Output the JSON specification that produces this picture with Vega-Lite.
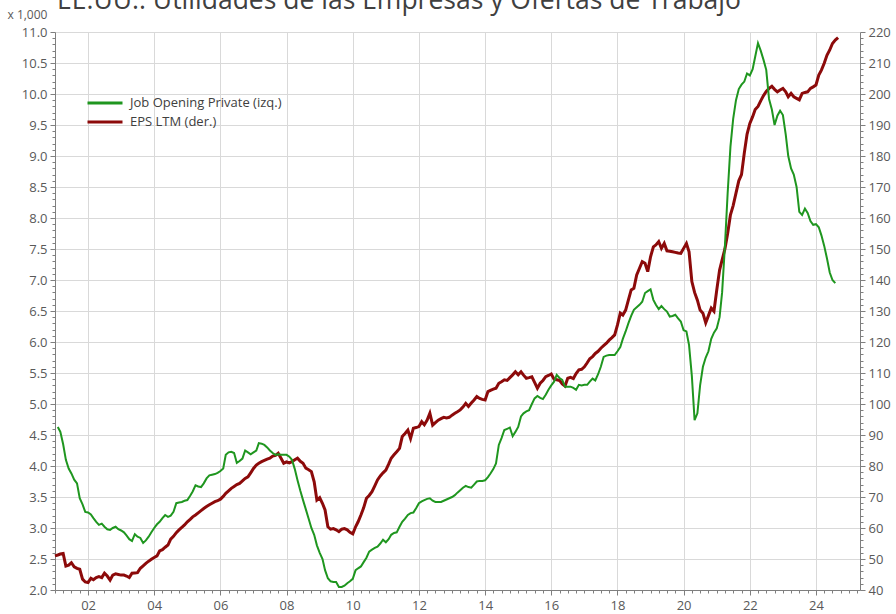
{
  "$schema": "https://vega.github.io/schema/vega-lite/v6.json",
  "width": 805,
  "height": 558,
  "autosize": {"type": "none"},
  "padding": {"left": 55, "top": 32, "right": 36, "bottom": 24},
  "background": "white",
  "title": {
    "text": "EE.UU.:  Utilidades de las Empresas y Ofertas de Trabajo",
    "anchor": "start",
    "frame": "group",
    "font": "Open Sans",
    "fontSize": 26.5,
    "fontWeight": "normal",
    "color": "#404040",
    "baseline": "alphabetic",
    "offset": -27,
    "dx": 2
  },
  "config": {
    "view": {"stroke": null},
    "axis": {
      "labelFont": "Open Sans",
      "labelFontSize": 13,
      "labelColor": "#595959",
      "titleFont": "Open Sans",
      "domainColor": "#7f7f7f",
      "tickColor": "#7f7f7f",
      "gridColor": "#d9d9d9",
      "labelOverlap": false,
      "labelFlush": false
    }
  },
  "datasets": {
    "jobs": [
      {"date": "2001-02", "value": 4.63}, {"date": "2001-03", "value": 4.55}, {"date": "2001-04", "value": 4.35}, {"date": "2001-05", "value": 4.10},
      {"date": "2001-06", "value": 3.96}, {"date": "2001-07", "value": 3.88}, {"date": "2001-08", "value": 3.78}, {"date": "2001-09", "value": 3.72},
      {"date": "2001-10", "value": 3.48}, {"date": "2001-11", "value": 3.38}, {"date": "2001-12", "value": 3.26}, {"date": "2002-01", "value": 3.25},
      {"date": "2002-02", "value": 3.22}, {"date": "2002-03", "value": 3.16}, {"date": "2002-04", "value": 3.10}, {"date": "2002-05", "value": 3.05},
      {"date": "2002-06", "value": 3.07}, {"date": "2002-07", "value": 3.02}, {"date": "2002-08", "value": 2.98}, {"date": "2002-09", "value": 2.97},
      {"date": "2002-10", "value": 3.00}, {"date": "2002-11", "value": 3.02}, {"date": "2002-12", "value": 2.98}, {"date": "2003-01", "value": 2.96},
      {"date": "2003-02", "value": 2.93}, {"date": "2003-03", "value": 2.88}, {"date": "2003-04", "value": 2.82}, {"date": "2003-05", "value": 2.79},
      {"date": "2003-06", "value": 2.90}, {"date": "2003-07", "value": 2.86}, {"date": "2003-08", "value": 2.84}, {"date": "2003-09", "value": 2.76},
      {"date": "2003-10", "value": 2.80}, {"date": "2003-11", "value": 2.86}, {"date": "2003-12", "value": 2.93}, {"date": "2004-01", "value": 3.00},
      {"date": "2004-02", "value": 3.06}, {"date": "2004-03", "value": 3.10}, {"date": "2004-04", "value": 3.16}, {"date": "2004-05", "value": 3.21},
      {"date": "2004-06", "value": 3.18}, {"date": "2004-07", "value": 3.20}, {"date": "2004-08", "value": 3.26}, {"date": "2004-09", "value": 3.40},
      {"date": "2004-10", "value": 3.41}, {"date": "2004-11", "value": 3.42}, {"date": "2004-12", "value": 3.44}, {"date": "2005-01", "value": 3.45},
      {"date": "2005-02", "value": 3.52}, {"date": "2005-03", "value": 3.59}, {"date": "2005-04", "value": 3.69}, {"date": "2005-05", "value": 3.67},
      {"date": "2005-06", "value": 3.66}, {"date": "2005-07", "value": 3.72}, {"date": "2005-08", "value": 3.80}, {"date": "2005-09", "value": 3.85},
      {"date": "2005-10", "value": 3.86}, {"date": "2005-11", "value": 3.87}, {"date": "2005-12", "value": 3.89}, {"date": "2006-01", "value": 3.92},
      {"date": "2006-02", "value": 3.96}, {"date": "2006-03", "value": 4.18}, {"date": "2006-04", "value": 4.22}, {"date": "2006-05", "value": 4.23},
      {"date": "2006-06", "value": 4.21}, {"date": "2006-07", "value": 4.05}, {"date": "2006-08", "value": 4.08}, {"date": "2006-09", "value": 4.12},
      {"date": "2006-10", "value": 4.25}, {"date": "2006-11", "value": 4.22}, {"date": "2006-12", "value": 4.19}, {"date": "2007-01", "value": 4.22},
      {"date": "2007-02", "value": 4.25}, {"date": "2007-03", "value": 4.37}, {"date": "2007-04", "value": 4.36}, {"date": "2007-05", "value": 4.34},
      {"date": "2007-06", "value": 4.30}, {"date": "2007-07", "value": 4.25}, {"date": "2007-08", "value": 4.21}, {"date": "2007-09", "value": 4.18},
      {"date": "2007-10", "value": 4.19}, {"date": "2007-11", "value": 4.18}, {"date": "2007-12", "value": 4.18}, {"date": "2008-01", "value": 4.18},
      {"date": "2008-02", "value": 4.15}, {"date": "2008-03", "value": 4.10}, {"date": "2008-04", "value": 3.95}, {"date": "2008-05", "value": 3.77},
      {"date": "2008-06", "value": 3.60}, {"date": "2008-07", "value": 3.45}, {"date": "2008-08", "value": 3.30}, {"date": "2008-09", "value": 3.15},
      {"date": "2008-10", "value": 3.00}, {"date": "2008-11", "value": 2.89}, {"date": "2008-12", "value": 2.72}, {"date": "2009-01", "value": 2.60},
      {"date": "2009-02", "value": 2.50}, {"date": "2009-03", "value": 2.32}, {"date": "2009-04", "value": 2.19}, {"date": "2009-05", "value": 2.14},
      {"date": "2009-06", "value": 2.13}, {"date": "2009-07", "value": 2.13}, {"date": "2009-08", "value": 2.05}, {"date": "2009-09", "value": 2.05},
      {"date": "2009-10", "value": 2.07}, {"date": "2009-11", "value": 2.11}, {"date": "2009-12", "value": 2.14}, {"date": "2010-01", "value": 2.18},
      {"date": "2010-02", "value": 2.32}, {"date": "2010-03", "value": 2.35}, {"date": "2010-04", "value": 2.38}, {"date": "2010-05", "value": 2.45},
      {"date": "2010-06", "value": 2.52}, {"date": "2010-07", "value": 2.62}, {"date": "2010-08", "value": 2.65}, {"date": "2010-09", "value": 2.68},
      {"date": "2010-10", "value": 2.70}, {"date": "2010-11", "value": 2.75}, {"date": "2010-12", "value": 2.81}, {"date": "2011-01", "value": 2.77},
      {"date": "2011-02", "value": 2.82}, {"date": "2011-03", "value": 2.89}, {"date": "2011-04", "value": 2.92}, {"date": "2011-05", "value": 2.93},
      {"date": "2011-06", "value": 3.02}, {"date": "2011-07", "value": 3.10}, {"date": "2011-08", "value": 3.15}, {"date": "2011-09", "value": 3.21},
      {"date": "2011-10", "value": 3.24}, {"date": "2011-11", "value": 3.25}, {"date": "2011-12", "value": 3.32}, {"date": "2012-01", "value": 3.40},
      {"date": "2012-02", "value": 3.43}, {"date": "2012-03", "value": 3.45}, {"date": "2012-04", "value": 3.47}, {"date": "2012-05", "value": 3.48},
      {"date": "2012-06", "value": 3.44}, {"date": "2012-07", "value": 3.42}, {"date": "2012-08", "value": 3.42}, {"date": "2012-09", "value": 3.42},
      {"date": "2012-10", "value": 3.44}, {"date": "2012-11", "value": 3.46}, {"date": "2012-12", "value": 3.48}, {"date": "2013-01", "value": 3.50},
      {"date": "2013-02", "value": 3.53}, {"date": "2013-03", "value": 3.57}, {"date": "2013-04", "value": 3.61}, {"date": "2013-05", "value": 3.65},
      {"date": "2013-06", "value": 3.68}, {"date": "2013-07", "value": 3.66}, {"date": "2013-08", "value": 3.65}, {"date": "2013-09", "value": 3.70},
      {"date": "2013-10", "value": 3.75}, {"date": "2013-11", "value": 3.76}, {"date": "2013-12", "value": 3.76}, {"date": "2014-01", "value": 3.77},
      {"date": "2014-02", "value": 3.82}, {"date": "2014-03", "value": 3.88}, {"date": "2014-04", "value": 3.95}, {"date": "2014-05", "value": 4.04},
      {"date": "2014-06", "value": 4.34}, {"date": "2014-07", "value": 4.45}, {"date": "2014-08", "value": 4.58}, {"date": "2014-09", "value": 4.60},
      {"date": "2014-10", "value": 4.62}, {"date": "2014-11", "value": 4.48}, {"date": "2014-12", "value": 4.55}, {"date": "2015-01", "value": 4.63},
      {"date": "2015-02", "value": 4.80}, {"date": "2015-03", "value": 4.85}, {"date": "2015-04", "value": 4.88}, {"date": "2015-05", "value": 4.90},
      {"date": "2015-06", "value": 5.00}, {"date": "2015-07", "value": 5.09}, {"date": "2015-08", "value": 5.13}, {"date": "2015-09", "value": 5.10},
      {"date": "2015-10", "value": 5.08}, {"date": "2015-11", "value": 5.15}, {"date": "2015-12", "value": 5.23}, {"date": "2016-01", "value": 5.30},
      {"date": "2016-02", "value": 5.36}, {"date": "2016-03", "value": 5.47}, {"date": "2016-04", "value": 5.42}, {"date": "2016-05", "value": 5.39},
      {"date": "2016-06", "value": 5.28}, {"date": "2016-07", "value": 5.28}, {"date": "2016-08", "value": 5.28}, {"date": "2016-09", "value": 5.26},
      {"date": "2016-10", "value": 5.23}, {"date": "2016-11", "value": 5.31}, {"date": "2016-12", "value": 5.30}, {"date": "2017-01", "value": 5.31},
      {"date": "2017-02", "value": 5.31}, {"date": "2017-03", "value": 5.36}, {"date": "2017-04", "value": 5.41}, {"date": "2017-05", "value": 5.38},
      {"date": "2017-06", "value": 5.48}, {"date": "2017-07", "value": 5.60}, {"date": "2017-08", "value": 5.76}, {"date": "2017-09", "value": 5.78},
      {"date": "2017-10", "value": 5.79}, {"date": "2017-11", "value": 5.79}, {"date": "2017-12", "value": 5.79}, {"date": "2018-01", "value": 5.85},
      {"date": "2018-02", "value": 5.92}, {"date": "2018-03", "value": 6.05}, {"date": "2018-04", "value": 6.17}, {"date": "2018-05", "value": 6.30},
      {"date": "2018-06", "value": 6.42}, {"date": "2018-07", "value": 6.52}, {"date": "2018-08", "value": 6.56}, {"date": "2018-09", "value": 6.60},
      {"date": "2018-10", "value": 6.65}, {"date": "2018-11", "value": 6.79}, {"date": "2018-12", "value": 6.82}, {"date": "2019-01", "value": 6.85},
      {"date": "2019-02", "value": 6.68}, {"date": "2019-03", "value": 6.60}, {"date": "2019-04", "value": 6.53}, {"date": "2019-05", "value": 6.58},
      {"date": "2019-06", "value": 6.53}, {"date": "2019-07", "value": 6.49}, {"date": "2019-08", "value": 6.41}, {"date": "2019-09", "value": 6.42},
      {"date": "2019-10", "value": 6.44}, {"date": "2019-11", "value": 6.38}, {"date": "2019-12", "value": 6.33}, {"date": "2020-01", "value": 6.19},
      {"date": "2020-02", "value": 6.17}, {"date": "2020-03", "value": 5.95}, {"date": "2020-04", "value": 5.45}, {"date": "2020-05", "value": 4.74},
      {"date": "2020-06", "value": 4.85}, {"date": "2020-07", "value": 5.30}, {"date": "2020-08", "value": 5.60}, {"date": "2020-09", "value": 5.75},
      {"date": "2020-10", "value": 5.85}, {"date": "2020-11", "value": 6.05}, {"date": "2020-12", "value": 6.15}, {"date": "2021-01", "value": 6.22},
      {"date": "2021-02", "value": 6.40}, {"date": "2021-03", "value": 6.80}, {"date": "2021-04", "value": 7.55}, {"date": "2021-05", "value": 8.40},
      {"date": "2021-06", "value": 9.15}, {"date": "2021-07", "value": 9.60}, {"date": "2021-08", "value": 9.90}, {"date": "2021-09", "value": 10.08},
      {"date": "2021-10", "value": 10.15}, {"date": "2021-11", "value": 10.20}, {"date": "2021-12", "value": 10.33}, {"date": "2022-01", "value": 10.30},
      {"date": "2022-02", "value": 10.40}, {"date": "2022-03", "value": 10.60}, {"date": "2022-04", "value": 10.82}, {"date": "2022-05", "value": 10.70},
      {"date": "2022-06", "value": 10.55}, {"date": "2022-07", "value": 10.39}, {"date": "2022-08", "value": 9.92}, {"date": "2022-09", "value": 9.75},
      {"date": "2022-10", "value": 9.50}, {"date": "2022-11", "value": 9.65}, {"date": "2022-12", "value": 9.73}, {"date": "2023-01", "value": 9.66},
      {"date": "2023-02", "value": 9.35}, {"date": "2023-03", "value": 9.00}, {"date": "2023-04", "value": 8.80}, {"date": "2023-05", "value": 8.70},
      {"date": "2023-06", "value": 8.50}, {"date": "2023-07", "value": 8.10}, {"date": "2023-08", "value": 8.05}, {"date": "2023-09", "value": 8.15},
      {"date": "2023-10", "value": 8.08}, {"date": "2023-11", "value": 7.95}, {"date": "2023-12", "value": 7.89}, {"date": "2024-01", "value": 7.90},
      {"date": "2024-02", "value": 7.85}, {"date": "2024-03", "value": 7.72}, {"date": "2024-04", "value": 7.55}, {"date": "2024-05", "value": 7.35},
      {"date": "2024-06", "value": 7.12}, {"date": "2024-07", "value": 7.00}, {"date": "2024-08", "value": 6.95}
    ],
    "eps": [
      {"date": "2001-01", "value": 51.0}, {"date": "2001-02", "value": 51.3}, {"date": "2001-03", "value": 51.6}, {"date": "2001-04", "value": 51.8},
      {"date": "2001-05", "value": 47.7}, {"date": "2001-06", "value": 48.0}, {"date": "2001-07", "value": 48.8}, {"date": "2001-08", "value": 47.5},
      {"date": "2001-09", "value": 47.0}, {"date": "2001-10", "value": 46.7}, {"date": "2001-11", "value": 43.5}, {"date": "2001-12", "value": 42.6},
      {"date": "2002-01", "value": 42.4}, {"date": "2002-02", "value": 43.8}, {"date": "2002-03", "value": 43.3}, {"date": "2002-04", "value": 44.0},
      {"date": "2002-05", "value": 44.3}, {"date": "2002-06", "value": 44.0}, {"date": "2002-07", "value": 45.4}, {"date": "2002-08", "value": 44.5},
      {"date": "2002-09", "value": 43.2}, {"date": "2002-10", "value": 44.8}, {"date": "2002-11", "value": 45.2}, {"date": "2002-12", "value": 45.0},
      {"date": "2003-01", "value": 44.8}, {"date": "2003-02", "value": 44.8}, {"date": "2003-03", "value": 44.5}, {"date": "2003-04", "value": 44.0},
      {"date": "2003-05", "value": 45.4}, {"date": "2003-06", "value": 45.5}, {"date": "2003-07", "value": 45.6}, {"date": "2003-08", "value": 47.0},
      {"date": "2003-09", "value": 47.8}, {"date": "2003-10", "value": 48.6}, {"date": "2003-11", "value": 49.3}, {"date": "2003-12", "value": 49.9},
      {"date": "2004-01", "value": 50.5}, {"date": "2004-02", "value": 51.0}, {"date": "2004-03", "value": 52.6}, {"date": "2004-04", "value": 53.0},
      {"date": "2004-05", "value": 53.8}, {"date": "2004-06", "value": 54.5}, {"date": "2004-07", "value": 56.4}, {"date": "2004-08", "value": 57.3},
      {"date": "2004-09", "value": 58.5}, {"date": "2004-10", "value": 59.4}, {"date": "2004-11", "value": 60.2}, {"date": "2004-12", "value": 61.0},
      {"date": "2005-01", "value": 62.0}, {"date": "2005-02", "value": 62.8}, {"date": "2005-03", "value": 63.6}, {"date": "2005-04", "value": 64.2},
      {"date": "2005-05", "value": 64.9}, {"date": "2005-06", "value": 65.6}, {"date": "2005-07", "value": 66.3}, {"date": "2005-08", "value": 66.9},
      {"date": "2005-09", "value": 67.5}, {"date": "2005-10", "value": 68.0}, {"date": "2005-11", "value": 68.5}, {"date": "2005-12", "value": 68.8},
      {"date": "2006-01", "value": 69.3}, {"date": "2006-02", "value": 70.2}, {"date": "2006-03", "value": 71.2}, {"date": "2006-04", "value": 72.0},
      {"date": "2006-05", "value": 72.8}, {"date": "2006-06", "value": 73.4}, {"date": "2006-07", "value": 74.0}, {"date": "2006-08", "value": 74.4},
      {"date": "2006-09", "value": 75.2}, {"date": "2006-10", "value": 76.0}, {"date": "2006-11", "value": 76.5}, {"date": "2006-12", "value": 77.8},
      {"date": "2007-01", "value": 79.2}, {"date": "2007-02", "value": 80.3}, {"date": "2007-03", "value": 80.9}, {"date": "2007-04", "value": 81.4},
      {"date": "2007-05", "value": 81.8}, {"date": "2007-06", "value": 82.2}, {"date": "2007-07", "value": 82.5}, {"date": "2007-08", "value": 83.2},
      {"date": "2007-09", "value": 83.4}, {"date": "2007-10", "value": 84.1}, {"date": "2007-11", "value": 82.5}, {"date": "2007-12", "value": 80.9},
      {"date": "2008-01", "value": 81.3}, {"date": "2008-02", "value": 81.0}, {"date": "2008-03", "value": 81.4}, {"date": "2008-04", "value": 82.0},
      {"date": "2008-05", "value": 82.5}, {"date": "2008-06", "value": 81.5}, {"date": "2008-07", "value": 80.9}, {"date": "2008-08", "value": 79.3},
      {"date": "2008-09", "value": 78.8}, {"date": "2008-10", "value": 78.2}, {"date": "2008-11", "value": 74.9}, {"date": "2008-12", "value": 69.0},
      {"date": "2009-01", "value": 69.8}, {"date": "2009-02", "value": 67.9}, {"date": "2009-03", "value": 65.8}, {"date": "2009-04", "value": 60.4},
      {"date": "2009-05", "value": 59.6}, {"date": "2009-06", "value": 59.8}, {"date": "2009-07", "value": 59.4}, {"date": "2009-08", "value": 58.8},
      {"date": "2009-09", "value": 59.6}, {"date": "2009-10", "value": 59.8}, {"date": "2009-11", "value": 59.4}, {"date": "2009-12", "value": 58.6},
      {"date": "2010-01", "value": 58.1}, {"date": "2010-02", "value": 60.4}, {"date": "2010-03", "value": 62.0}, {"date": "2010-04", "value": 64.2},
      {"date": "2010-05", "value": 66.5}, {"date": "2010-06", "value": 69.6}, {"date": "2010-07", "value": 70.5}, {"date": "2010-08", "value": 71.7},
      {"date": "2010-09", "value": 73.6}, {"date": "2010-10", "value": 75.5}, {"date": "2010-11", "value": 76.8}, {"date": "2010-12", "value": 77.8},
      {"date": "2011-01", "value": 78.7}, {"date": "2011-02", "value": 80.6}, {"date": "2011-03", "value": 82.5}, {"date": "2011-04", "value": 83.6},
      {"date": "2011-05", "value": 84.6}, {"date": "2011-06", "value": 85.7}, {"date": "2011-07", "value": 89.5}, {"date": "2011-08", "value": 90.5},
      {"date": "2011-09", "value": 91.6}, {"date": "2011-10", "value": 88.9}, {"date": "2011-11", "value": 92.2}, {"date": "2011-12", "value": 92.4},
      {"date": "2012-01", "value": 92.7}, {"date": "2012-02", "value": 94.3}, {"date": "2012-03", "value": 93.3}, {"date": "2012-04", "value": 94.8},
      {"date": "2012-05", "value": 97.0}, {"date": "2012-06", "value": 93.2}, {"date": "2012-07", "value": 94.0}, {"date": "2012-08", "value": 94.8},
      {"date": "2012-09", "value": 95.3}, {"date": "2012-10", "value": 95.7}, {"date": "2012-11", "value": 95.5}, {"date": "2012-12", "value": 95.7},
      {"date": "2013-01", "value": 96.4}, {"date": "2013-02", "value": 97.0}, {"date": "2013-03", "value": 97.5}, {"date": "2013-04", "value": 98.1},
      {"date": "2013-05", "value": 99.0}, {"date": "2013-06", "value": 100.2}, {"date": "2013-07", "value": 99.2}, {"date": "2013-08", "value": 100.3},
      {"date": "2013-09", "value": 101.3}, {"date": "2013-10", "value": 102.4}, {"date": "2013-11", "value": 101.8}, {"date": "2013-12", "value": 101.5},
      {"date": "2014-01", "value": 101.3}, {"date": "2014-02", "value": 104.0}, {"date": "2014-03", "value": 104.4}, {"date": "2014-04", "value": 104.8},
      {"date": "2014-05", "value": 105.1}, {"date": "2014-06", "value": 106.7}, {"date": "2014-07", "value": 107.2}, {"date": "2014-08", "value": 107.8},
      {"date": "2014-09", "value": 107.6}, {"date": "2014-10", "value": 108.5}, {"date": "2014-11", "value": 109.4}, {"date": "2014-12", "value": 110.4},
      {"date": "2015-01", "value": 109.4}, {"date": "2015-02", "value": 110.4}, {"date": "2015-03", "value": 109.3}, {"date": "2015-04", "value": 108.3},
      {"date": "2015-05", "value": 108.5}, {"date": "2015-06", "value": 108.8}, {"date": "2015-07", "value": 107.0}, {"date": "2015-08", "value": 105.1},
      {"date": "2015-09", "value": 106.7}, {"date": "2015-10", "value": 107.6}, {"date": "2015-11", "value": 108.8}, {"date": "2015-12", "value": 109.2},
      {"date": "2016-01", "value": 109.7}, {"date": "2016-02", "value": 108.0}, {"date": "2016-03", "value": 107.8}, {"date": "2016-04", "value": 107.6},
      {"date": "2016-05", "value": 106.5}, {"date": "2016-06", "value": 105.8}, {"date": "2016-07", "value": 108.3}, {"date": "2016-08", "value": 108.6},
      {"date": "2016-09", "value": 108.2}, {"date": "2016-10", "value": 109.8}, {"date": "2016-11", "value": 111.0}, {"date": "2016-12", "value": 111.2},
      {"date": "2017-01", "value": 112.0}, {"date": "2017-02", "value": 113.3}, {"date": "2017-03", "value": 114.6}, {"date": "2017-04", "value": 115.3},
      {"date": "2017-05", "value": 116.3}, {"date": "2017-06", "value": 117.0}, {"date": "2017-07", "value": 118.0}, {"date": "2017-08", "value": 118.8},
      {"date": "2017-09", "value": 119.6}, {"date": "2017-10", "value": 120.6}, {"date": "2017-11", "value": 121.4}, {"date": "2017-12", "value": 122.3},
      {"date": "2018-01", "value": 125.5}, {"date": "2018-02", "value": 129.3}, {"date": "2018-03", "value": 128.7}, {"date": "2018-04", "value": 130.3},
      {"date": "2018-05", "value": 133.5}, {"date": "2018-06", "value": 136.8}, {"date": "2018-07", "value": 137.3}, {"date": "2018-08", "value": 141.6},
      {"date": "2018-09", "value": 143.8}, {"date": "2018-10", "value": 145.9}, {"date": "2018-11", "value": 145.4}, {"date": "2018-12", "value": 142.7},
      {"date": "2019-01", "value": 147.5}, {"date": "2019-02", "value": 150.7}, {"date": "2019-03", "value": 151.3}, {"date": "2019-04", "value": 152.4},
      {"date": "2019-05", "value": 150.2}, {"date": "2019-06", "value": 151.8}, {"date": "2019-07", "value": 149.4}, {"date": "2019-08", "value": 149.3},
      {"date": "2019-09", "value": 149.1}, {"date": "2019-10", "value": 148.9}, {"date": "2019-11", "value": 148.7}, {"date": "2019-12", "value": 148.6},
      {"date": "2020-01", "value": 150.2}, {"date": "2020-02", "value": 151.8}, {"date": "2020-03", "value": 149.1}, {"date": "2020-04", "value": 139.5},
      {"date": "2020-05", "value": 136.0}, {"date": "2020-06", "value": 133.5}, {"date": "2020-07", "value": 130.3}, {"date": "2020-08", "value": 129.3},
      {"date": "2020-09", "value": 126.2}, {"date": "2020-10", "value": 128.5}, {"date": "2020-11", "value": 130.9}, {"date": "2020-12", "value": 129.9},
      {"date": "2021-01", "value": 136.8}, {"date": "2021-02", "value": 143.2}, {"date": "2021-03", "value": 146.5}, {"date": "2021-04", "value": 150.0},
      {"date": "2021-05", "value": 155.0}, {"date": "2021-06", "value": 161.0}, {"date": "2021-07", "value": 164.0}, {"date": "2021-08", "value": 168.0},
      {"date": "2021-09", "value": 172.0}, {"date": "2021-10", "value": 174.0}, {"date": "2021-11", "value": 181.0}, {"date": "2021-12", "value": 187.0},
      {"date": "2022-01", "value": 190.5}, {"date": "2022-02", "value": 192.7}, {"date": "2022-03", "value": 195.0}, {"date": "2022-04", "value": 196.0},
      {"date": "2022-05", "value": 197.8}, {"date": "2022-06", "value": 199.5}, {"date": "2022-07", "value": 200.8}, {"date": "2022-08", "value": 201.8},
      {"date": "2022-09", "value": 202.5}, {"date": "2022-10", "value": 201.5}, {"date": "2022-11", "value": 200.7}, {"date": "2022-12", "value": 201.3},
      {"date": "2023-01", "value": 201.8}, {"date": "2023-02", "value": 200.7}, {"date": "2023-03", "value": 199.1}, {"date": "2023-04", "value": 200.2},
      {"date": "2023-05", "value": 199.1}, {"date": "2023-06", "value": 198.6}, {"date": "2023-07", "value": 198.1}, {"date": "2023-08", "value": 200.2},
      {"date": "2023-09", "value": 200.5}, {"date": "2023-10", "value": 200.7}, {"date": "2023-11", "value": 201.8}, {"date": "2023-12", "value": 202.3},
      {"date": "2024-01", "value": 202.9}, {"date": "2024-02", "value": 206.1}, {"date": "2024-03", "value": 207.7}, {"date": "2024-04", "value": 209.9},
      {"date": "2024-05", "value": 212.5}, {"date": "2024-06", "value": 214.2}, {"date": "2024-07", "value": 216.3}, {"date": "2024-08", "value": 217.4},
      {"date": "2024-09", "value": 218.2}
    ]
  },
  "layer": [
    {
      "data": {"name": "eps"},
      "mark": {"type": "line", "strokeWidth": 3, "interpolate": "linear"},
      "encoding": {
        "x": {
          "field": "date", "type": "temporal",
          "scale": {"domain": ["2001-01-01", "2025-05-01"]},
          "axis": {
            "title": null,
            "tickCount": {"interval": "month", "step": 3},
            "labelExpr": "month(datum.value) == 0 && year(datum.value) % 2 == 0 ? timeFormat(datum.value, '%y') : ''",
            "tickSize": {"condition": {"test": "month(datum.value) == 0 && year(datum.value) % 2 == 0", "value": 5}, "value": 3},
            "grid": true,
            "gridOpacity": {"condition": {"test": "month(datum.value) == 0 && year(datum.value) % 2 == 0", "value": 1}, "value": 0},
            "labelPadding": 4
          }
        },
        "y": {
          "field": "value", "type": "quantitative",
          "scale": {"domain": [40, 220], "nice": false, "zero": false},
          "axis": {
            "orient": "right",
            "title": null,
            "grid": false,
            "tickCount": 90,
            "labelExpr": "datum.value % 10 == 0 ? format(datum.value, 'd') : ''",
            "tickSize": {"condition": {"test": "datum.value % 10 == 0", "value": 5}, "value": 3},
            "labelPadding": 3
          }
        },
        "color": {
          "datum": "EPS LTM (der.)",
          "type": "nominal",
          "scale": {"domain": ["Job Opening Private (izq.)", "EPS LTM (der.)"], "range": ["#1f961f", "#8c0a0a"]},
          "legend": {
            "title": null,
            "orient": "none",
            "legendX": 31,
            "legendY": 63,
            "symbolType": "stroke",
            "symbolSize": 1225,
            "symbolStrokeWidth": 3,
            "clipHeight": 16,
            "rowPadding": 3,
            "labelFont": "Open Sans",
            "labelFontSize": 13,
            "labelColor": "#404040",
            "labelOffset": 6
          }
        }
      }
    },
    {
      "data": {"name": "jobs"},
      "mark": {"type": "line", "strokeWidth": 2, "interpolate": "linear"},
      "encoding": {
        "x": {"field": "date", "type": "temporal"},
        "y": {
          "field": "value", "type": "quantitative",
          "scale": {"domain": [2, 11], "nice": false, "zero": false},
          "axis": {
            "orient": "left",
            "title": "x 1,000",
            "titleAngle": 0,
            "titleX": -48,
            "titleY": -18,
            "titleAlign": "left",
            "titleBaseline": "middle",
            "titleFontSize": 12,
            "titleFontWeight": "normal",
            "titleColor": "#595959",
            "grid": true,
            "tickCount": 90,
            "labelExpr": "abs(datum.value * 2 - round(datum.value * 2)) < 0.001 ? format(datum.value, '.1f') : ''",
            "tickSize": {"condition": {"test": "abs(datum.value * 2 - round(datum.value * 2)) < 0.001", "value": 5}, "value": 3},
            "gridOpacity": {"condition": {"test": "abs(datum.value * 2 - round(datum.value * 2)) < 0.001", "value": 1}, "value": 0},
            "labelPadding": 3
          }
        },
        "color": {"datum": "Job Opening Private (izq.)", "type": "nominal"}
      }
    }
  ],
  "resolve": {"scale": {"y": "independent"}}
}
